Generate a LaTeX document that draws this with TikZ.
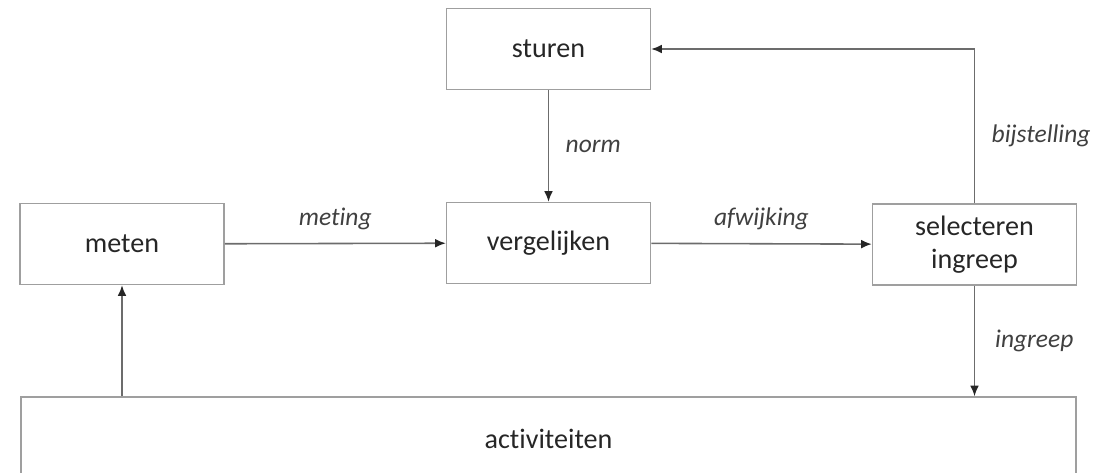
\documentclass[tikz,border=0pt]{standalone}
\usepackage{fontspec}
\setmainfont{Carlito}[Ligatures=NoCommon]
\usetikzlibrary{arrows.meta}
\tikzstyle{blok}=[rectangle,draw=gray!75,line width=0.9pt,text=black!85,minimum width=4.08cm,minimum height=1.62cm,inner sep=0pt,align=center,font=\fontsize{16}{19}\selectfont]
\tikzstyle{lbl}=[text=black!75,font=\fontsize{14.5}{17}\selectfont\itshape]
\tikzstyle{pijl}=[draw=gray!85!black,line width=0.9pt,-{Latex[length=6pt,width=5pt,color=black!85]}]

\begin{document}
\begin{tikzpicture}[x=0.02cm,y=-0.02cm]
  \useasboundingbox (0,0) rectangle (1109,473);
  \node[blok] (sturen) at (548.5,49) {sturen};
  \node[blok] (meten) at (122,244) {meten};
  \node[blok] (vergelijken) at (548.5,243) {vergelijken};
  \node[blok] (selecteren) at (974.5,244.5) {selecteren\\ingreep};
  \node[blok,minimum width=21.1cm,minimum height=1.66cm] (activiteiten) at (548.5,438.5) {activiteiten};
  \draw [pijl] (sturen) -- (vergelijken) node[lbl,midway,right=6pt] {norm};
  \draw [pijl] (meten) -- (vergelijken) node[lbl,midway,above=4pt] {meting};
  \draw [pijl] (vergelijken) -- (selecteren) node[lbl,midway,above=4pt] {afwijking};
  \draw [pijl] (selecteren.north) |- (sturen.east) node[lbl,pos=0.22,right=6pt] {bijstelling};
  \draw [pijl] (selecteren.south) -- (selecteren.south |- activiteiten.north) node[lbl,midway,right=8pt] {ingreep};
  \draw [pijl] (activiteiten.north -| meten.south) -- (meten.south);
\end{tikzpicture}
\end{document}
